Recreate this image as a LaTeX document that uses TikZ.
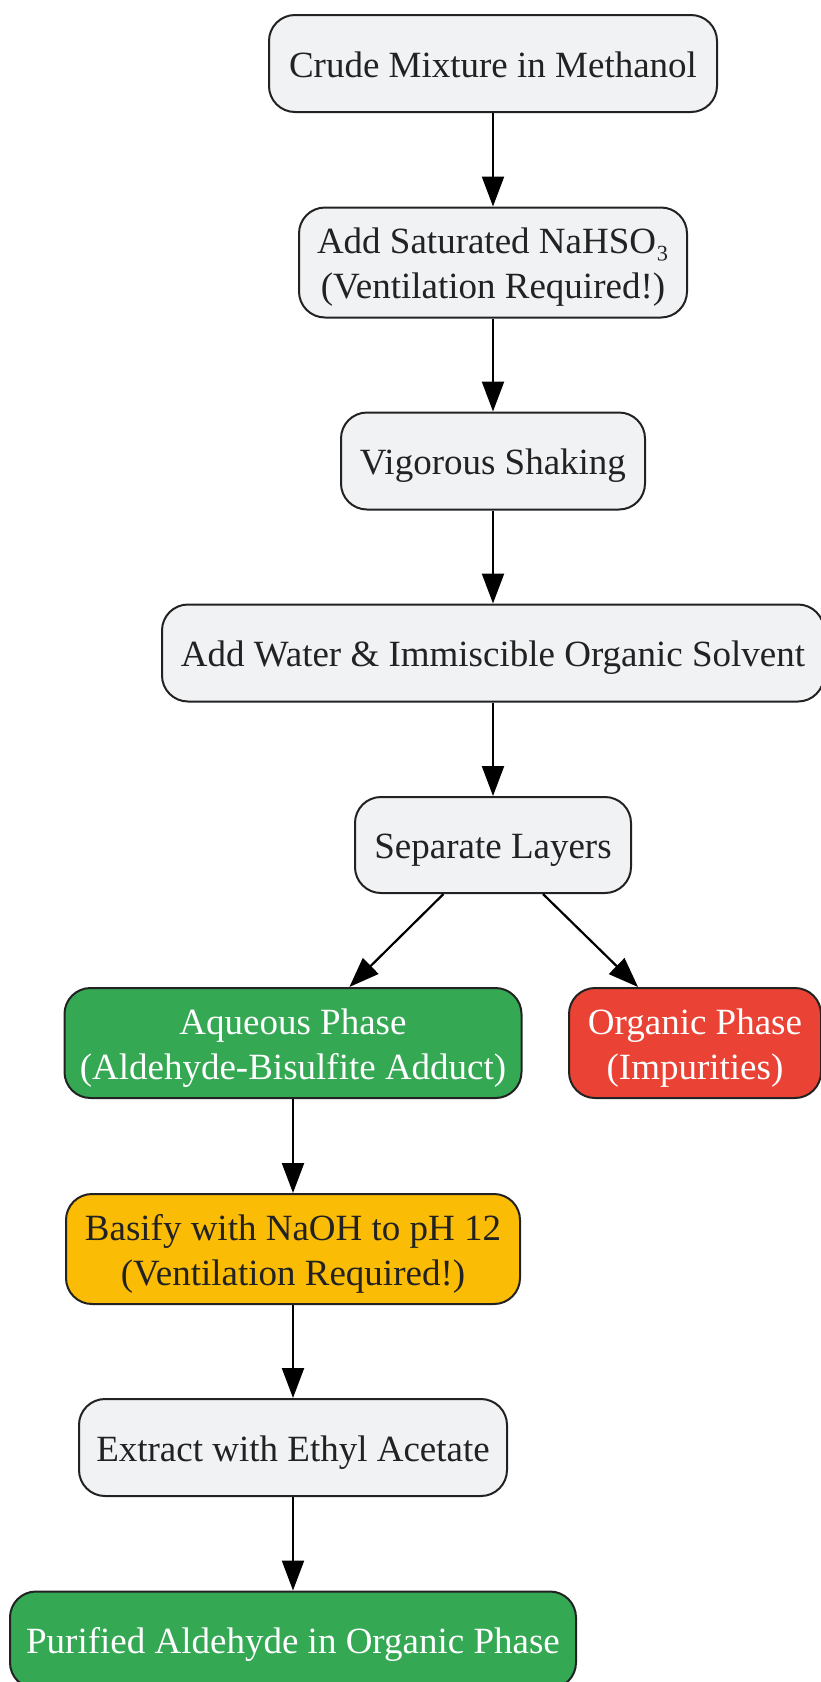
\documentclass[tikz,border=0pt]{standalone}
\usepackage{fontspec}
\setmainfont{Liberation Serif}
\usetikzlibrary{arrows.meta}
\definecolor{boxgray}{HTML}{F1F2F4}
\definecolor{boxline}{HTML}{222222}
\definecolor{dgreencolor}{HTML}{34A853}
\definecolor{dredcolor}{HTML}{EA4335}
\definecolor{dyellowcolor}{HTML}{FBBC05}
\tikzset{
  box/.style={draw=boxline,line width=2pt,fill=boxgray,rounded corners=26pt,
    align=center,text=boxline,font=\fontsize{37}{45}\selectfont,
    inner sep=0pt,minimum height=97pt,text height=34pt,text depth=6.4pt},
  tallbox/.style={box,minimum height=110pt,text height=79pt},
  greenbox/.style={tallbox,fill=dgreencolor,text=white},
  redbox/.style={tallbox,fill=dredcolor,text=white},
  yellowbox/.style={tallbox,fill=dyellowcolor}
}
\begin{document}
\begin{tikzpicture}[x=1pt,y=-1pt,>={Triangle[length=30pt,width=22pt]},line width=2.2pt]
\useasboundingbox (0,0) rectangle (821,1682);
\node[box,minimum width=448pt] (crude) at (493,63.5) {Crude Mixture in Methanol};
\node[tallbox,minimum width=388pt] (nahso) at (493,262.5) {Add Saturated NaHSO₃\\(Ventilation Required!)};
\node[box,minimum width=304pt] (shake) at (493,461) {Vigorous Shaking};
\node[box,minimum width=662pt] (water) at (493,653) {Add Water \& Immiscible Organic Solvent};
\node[box,minimum width=276pt,minimum height=96pt] (layers) at (493,845) {Separate Layers};
\node[greenbox,minimum width=457pt] (aqueous) at (293,1043) {Aqueous Phase\\(Aldehyde-Bisulfite Adduct)};
\node[redbox,minimum width=252pt] (organic) at (695,1043) {Organic Phase\\(Impurities)};
\node[yellowbox,minimum width=454pt] (basify) at (293,1249) {Basify with NaOH to pH 12\\(Ventilation Required!)};
\node[box,minimum width=428pt] (extract) at (293,1447.5) {Extract with Ethyl Acetate};
\node[box,fill=dgreencolor,text=white,minimum width=566pt] (purified) at (293,1640) {Purified Aldehyde in Organic Phase};
\draw[->] (crude) -- (nahso);
\draw[->] (nahso) -- (shake);
\draw[->] (shake) -- (water);
\draw[->] (water) -- (layers);
\draw[->] (layers) -- (aqueous);
\draw[->] (layers) -- (organic);
\draw[->] (aqueous) -- (basify);
\draw[->] (basify) -- (extract);
\draw[->] (extract) -- (purified);
\end{tikzpicture}
\end{document}
